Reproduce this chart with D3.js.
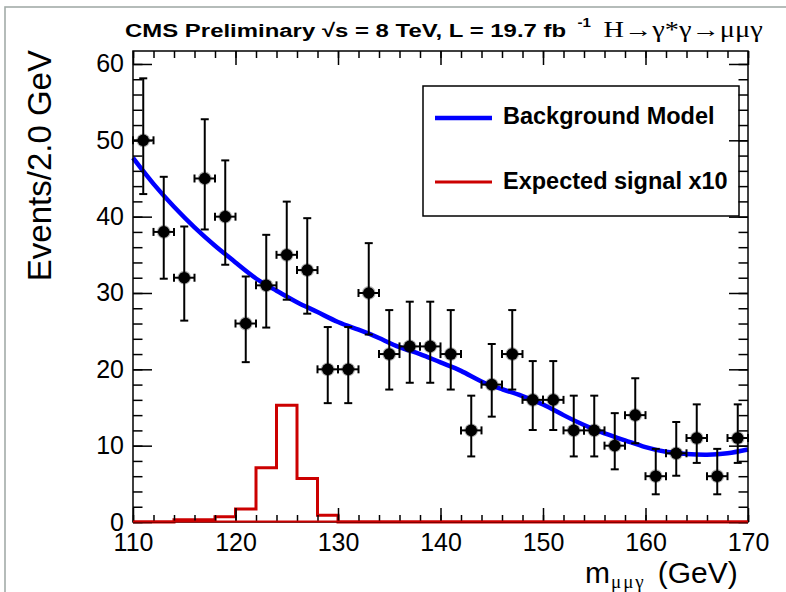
<!DOCTYPE html>
<html>
<head>
<meta charset="utf-8">
<script src="https://cdn.jsdelivr.net/npm/d3@7"></script>
<style>
  body { margin: 0; background: #fff; }
  svg { display: block; font-family: "Liberation Sans", Arial, sans-serif; }
</style>
</head>
<body>
<div class="main"></div>
<script>
//// data
const binCenters = [111, 113, 115, 117, 119, 121, 123, 125, 127, 129, 131, 133, 135, 137, 139,
                    141, 143, 145, 147, 149, 151, 153, 155, 157, 159, 161, 163, 165, 167, 169];
const counts = [50, 38, 32, 45, 40, 26, 31, 35, 33, 20, 20, 30, 22, 23, 23,
                22, 12, 18, 22, 16, 16, 12, 12, 10, 14, 6, 9, 11, 6, 11];
// poisson interval bounds (low / high)
const errLow = [42.96, 31.87, 26.38, 38.32, 33.70, 20.94, 25.47, 29.12, 27.29, 15.57, 15.57, 24.56, 17.35, 18.24, 18.24,
                17.35, 8.59, 13.80, 17.35, 12.05, 12.05, 8.59, 8.59, 6.90, 10.31, 3.63, 6.06, 7.74, 3.63, 7.74];
const errHigh = [58.12, 45.22, 38.71, 52.76, 47.37, 32.16, 37.62, 41.97, 39.80, 25.54, 25.54, 36.53, 27.76, 28.86, 28.86,
                 27.76, 16.55, 23.32, 27.76, 21.08, 21.08, 16.55, 16.55, 14.26, 18.83, 9.58, 13.10, 15.41, 9.58, 15.41];

const bgX = [110, 112, 114, 116, 118, 120, 122, 124, 126, 128, 130, 132, 134, 136, 138, 140,
             142, 144, 146, 148, 150, 152, 154, 156, 158, 160, 162, 164, 166, 168, 170];
const bgY = [47.7, 44.3, 41.3, 38.6, 36.2, 34.0, 31.9, 30.3, 28.8, 27.5, 26.2, 25.2, 24.1, 22.9, 22.0, 20.9,
             19.8, 18.4, 17.4, 16.5, 15.4, 14.0, 12.7, 11.6, 10.7, 9.8, 9.2, 8.9, 8.8, 9.0, 9.5];

const sigEdges = [110, 112, 114, 116, 118, 120, 122, 124, 126, 128, 130, 132, 134, 136, 138,
                  140, 142, 144, 146, 148, 150, 152, 154, 156, 158, 160, 162, 164, 166, 168, 170];
const sigValues = [0, 0, 0.3, 0.3, 0.7, 1.7, 7.1, 15.3, 5.7, 0.9, 0, 0, 0, 0, 0,
                   0, 0, 0, 0, 0, 0, 0, 0, 0, 0, 0, 0, 0, 0, 0];

const xMajor = [110, 120, 130, 140, 150, 160, 170];
const xMinor = d3.range(110, 171, 2);
const yMajor = [0, 10, 20, 30, 40, 50, 60];
const yMinor = d3.range(0, 61, 2);

//// layout
const width = 786;
const height = 592;
const padLeft = 133, padRight = 748, padTop = 51, padBottom = 522;

const svg = d3.select('.main').append('svg')
  .attr('width', width)
  .attr('height', height);

svg.append('rect')
  .attr('x', 5).attr('y', 7)
  .attr('width', 900).attr('height', 700)
  .attr('fill', 'none')
  .attr('stroke', '#a3aca9')
  .attr('stroke-width', 1.6);

const xScale = d3.scaleLinear().domain([110, 170]).range([padLeft, padRight]);
const yScale = d3.scaleLinear().domain([0, 61.7]).range([padBottom, padTop]);

// legend (drawn under the frame ticks)
const legend = svg.append('g');
legend.append('rect')
  .attr('x', 423).attr('y', 86)
  .attr('width', 316).attr('height', 130)
  .attr('fill', '#fff')
  .attr('stroke', '#000')
  .attr('stroke-width', 1.5);
legend.append('line')
  .attr('x1', 435).attr('x2', 492).attr('y1', 118).attr('y2', 118)
  .attr('stroke', '#0000ff').attr('stroke-width', 4.5);
legend.append('line')
  .attr('x1', 435).attr('x2', 492).attr('y1', 182).attr('y2', 182)
  .attr('stroke', '#cc0000').attr('stroke-width', 3);
legend.append('text')
  .attr('x', 503).attr('y', 124)
  .attr('font-weight', 'bold').attr('font-size', 23.5)
  .text('Background Model');
legend.append('text')
  .attr('x', 503).attr('y', 189)
  .attr('font-weight', 'bold').attr('font-size', 23.5)
  .text('Expected signal x10');

// signal histogram x10
const sigLine = d3.line()
  .x(d => xScale(d[0]))
  .y(d => yScale(d[1]))
  .curve(d3.curveStepAfter);
const sigPts = sigEdges.map((e, i) => [e, i < sigValues.length ? sigValues[i] : sigValues[sigValues.length - 1]]);
svg.append('path')
  .attr('d', sigLine(sigPts))
  .attr('fill', 'none')
  .attr('stroke', '#cc0000')
  .attr('stroke-width', 3);

// background model
const bgLine = d3.line()
  .x((d, i) => xScale(bgX[i]))
  .y(d => yScale(d))
  .curve(d3.curveNatural);
svg.append('path')
  .attr('d', bgLine(bgY))
  .attr('fill', 'none')
  .attr('stroke', '#0000ff')
  .attr('stroke-width', 4.5);

// data points with error bars
const pts = svg.append('g').attr('stroke', '#000').attr('stroke-width', 2);
binCenters.forEach((c, i) => {
  const cx = xScale(c), cy = yScale(counts[i]);
  const yl = yScale(errLow[i]), yh = yScale(errHigh[i]);
  const xl = xScale(c - 1), xh = xScale(c + 1);
  pts.append('line').attr('x1', cx).attr('x2', cx).attr('y1', yl).attr('y2', yh);
  pts.append('line').attr('x1', cx - 4).attr('x2', cx + 4).attr('y1', yl).attr('y2', yl);
  pts.append('line').attr('x1', cx - 4).attr('x2', cx + 4).attr('y1', yh).attr('y2', yh);
  pts.append('line').attr('x1', xl).attr('x2', xh).attr('y1', cy).attr('y2', cy);
  pts.append('line').attr('x1', xl).attr('x2', xl).attr('y1', cy - 4).attr('y2', cy + 4);
  pts.append('line').attr('x1', xh).attr('x2', xh).attr('y1', cy - 4).attr('y2', cy + 4);
});
svg.append('g').selectAll('circle')
  .data(binCenters)
  .enter()
  .append('circle')
  .attr('cx', d => xScale(d))
  .attr('cy', (d, i) => yScale(counts[i]))
  .attr('r', 5.8)
  .attr('fill', '#000')
  .attr('stroke', 'rgba(0,0,0,0.3)')
  .attr('stroke-width', 2.2);

// axes, ticks pointing inward on all four sides
function tickAxis(axis, values, size, tx, ty, labels) {
  const a = axis.tickValues(values).tickSize(-size);
  if (!labels) a.tickFormat('');
  const g = svg.append('g')
    .attr('transform', `translate(${tx}, ${ty})`)
    .call(a);
  g.select('.domain').remove();
  g.selectAll('.tick line').attr('stroke', '#000').attr('stroke-width', 1.5);
  return g;
}
tickAxis(d3.axisBottom(xScale), xMinor, 7, 0, padBottom, false);
tickAxis(d3.axisTop(xScale), xMinor, 7, 0, padTop, false);
tickAxis(d3.axisTop(xScale), xMajor, 14, 0, padTop, false);
const xAxis = tickAxis(d3.axisBottom(xScale).tickPadding(11), xMajor, 14, 0, padBottom, true);
xAxis.selectAll('text').attr('font-size', 25).attr('fill', '#000')
  .attr('font-family', '"Liberation Sans", Arial, sans-serif');

tickAxis(d3.axisLeft(yScale), yMinor, 9.5, padLeft, 0, false);
tickAxis(d3.axisRight(yScale), yMinor, 9.5, padRight, 0, false);
tickAxis(d3.axisRight(yScale), yMajor, 19, padRight, 0, false);
const yAxis = tickAxis(d3.axisLeft(yScale).tickPadding(9), yMajor, 19, padLeft, 0, true);
yAxis.selectAll('text').attr('font-size', 25).attr('fill', '#000')
  .attr('font-family', '"Liberation Sans", Arial, sans-serif');

svg.append('rect')
  .attr('x', padLeft).attr('y', padTop)
  .attr('width', padRight - padLeft).attr('height', padBottom - padTop)
  .attr('fill', 'none')
  .attr('stroke', '#000')
  .attr('stroke-width', 1.5);

// red baseline of the signal histogram sits on the x axis
svg.append('line')
  .attr('x1', padLeft).attr('x2', padRight)
  .attr('y1', padBottom - 0.5).attr('y2', padBottom - 0.5)
  .attr('stroke', '#cc0000').attr('stroke-width', 2);

// title, ROOT draws it wide
const title = svg.append('g')
  .attr('transform', 'translate(125, 37) scale(1.26, 1)')
  .append('text')
  .attr('font-size', 19).attr('font-weight', 'bold');
title.append('tspan').text('CMS Preliminary \u221As = 8 TeV, L = 19.7 fb');
title.append('tspan').attr('font-size', 12).attr('dy', -10).attr('dx', 9).text('-1');
title.append('tspan').attr('dy', 10).attr('dx', 10)
  .attr('font-weight', 'normal')
  .attr('font-family', '"Liberation Serif", serif')
  .attr('font-size', 22.5)
  .text('H\u2192\u03B3*\u03B3\u2192\u03BC\u03BC\u03B3');

svg.append('text')
  .attr('transform', 'translate(51, 50) rotate(-90)')
  .attr('text-anchor', 'end')
  .attr('font-size', 33)
  .text('Events/2.0 GeV');

const xTitle = svg.append('text')
  .attr('x', 585).attr('y', 583)
  .attr('font-size', 30);
xTitle.append('tspan').text('m');
xTitle.append('tspan').attr('font-size', 19).attr('dy', 5).attr('dx', 1)
  .attr('letter-spacing', 2)
  .attr('font-family', '"Liberation Serif", serif')
  .text('\u03BC\u03BC\u03B3');
xTitle.append('tspan').attr('dy', -5).attr('dx', 12).text('(GeV)');
</script>
</body>
</html>
